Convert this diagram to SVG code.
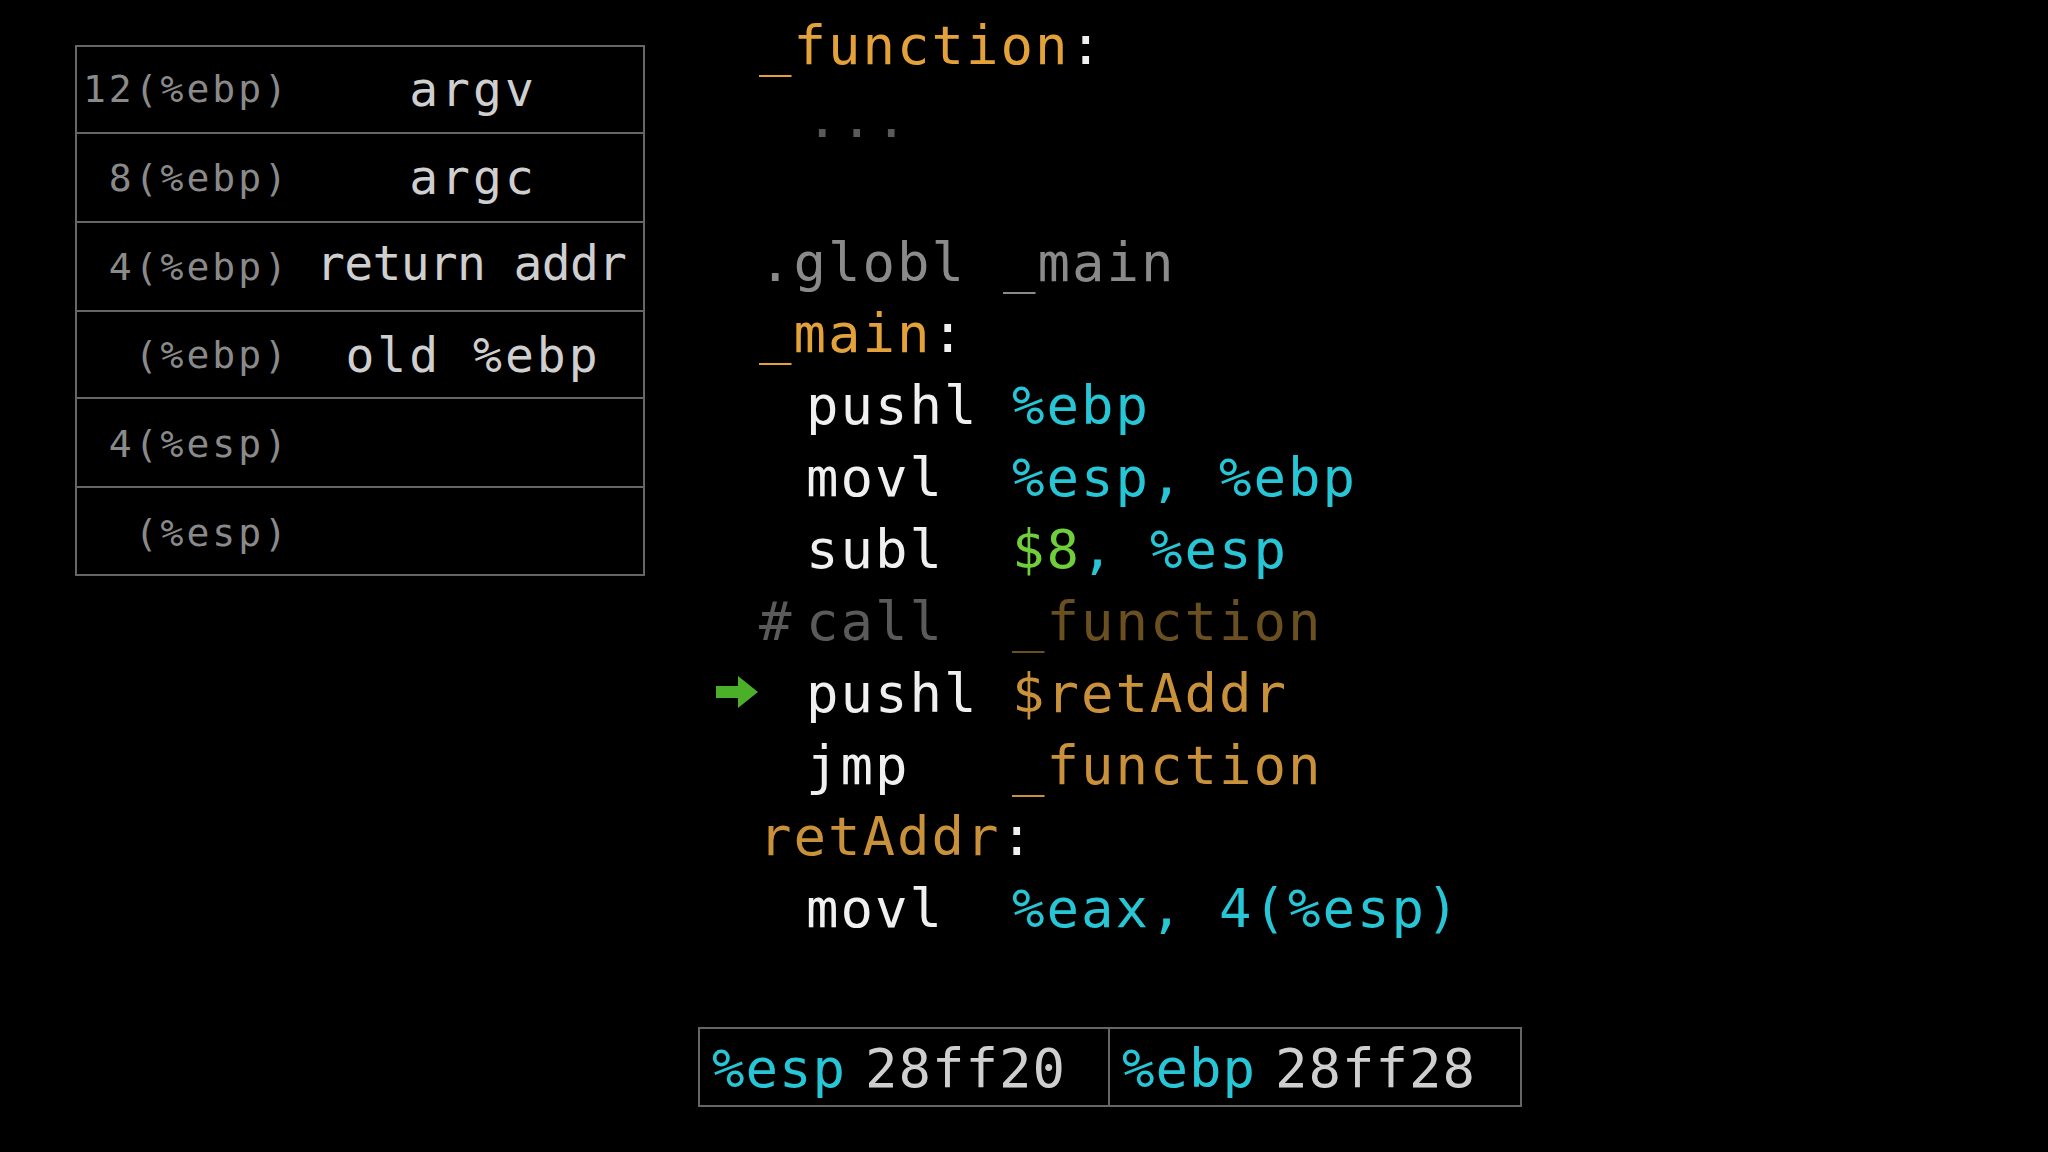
<svg xmlns="http://www.w3.org/2000/svg" width="2048" height="1152" viewBox="0 0 2048 1152">
<style>
text{font-family:"DejaVu Sans Mono","Liberation Mono",monospace}
.c{font-size:54px;letter-spacing:2px;fill:#f0f0f0}
.o{fill:#e3a13a}.o2{fill:#c9923a}.cy{fill:#27c6d6}.g{fill:#6fcf3a}.gr{fill:#8a8a8a}.dg{fill:#5a5a5a}
.lab{font-size:38px;letter-spacing:3px;fill:#8a8a8a;text-anchor:end}
.val{font-size:48px;letter-spacing:3px;fill:#cfcfcf;text-anchor:middle}
.cell{fill:none;stroke:#666;stroke-width:2}
.reg{font-size:54px;letter-spacing:1px}
</style>
<rect width="2048" height="1152" fill="#000"/>
<g id="stack">
<rect class="cell" x="76" y="46" width="568" height="529"/>
<line class="cell" x1="76" y1="133" x2="644" y2="133"/>
<line class="cell" x1="76" y1="222" x2="644" y2="222"/>
<line class="cell" x1="76" y1="311" x2="644" y2="311"/>
<line class="cell" x1="76" y1="398" x2="644" y2="398"/>
<line class="cell" x1="76" y1="487" x2="644" y2="487"/>
<text class="lab" x="290" y="102">12(%ebp)</text><text class="val" x="473" y="106">argv</text>
<text class="lab" x="290" y="191">8(%ebp)</text><text class="val" x="473" y="194">argc</text>
<text class="lab" x="290" y="280">4(%ebp)</text><text class="val" x="473" y="280" textLength="314">return addr</text>
<text class="lab" x="290" y="368">(%ebp)</text><text class="val" x="473" y="372">old %ebp</text>
<text class="lab" x="290" y="457">4(%esp)</text>
<text class="lab" x="290" y="546">(%esp)</text>
</g>
<g id="code" class="c">
<text x="759" y="64"><tspan class="o">_function</tspan>:</text>
<text x="806" y="137" class="dg">...</text>
<text x="759" y="281" class="gr">.globl <tspan x="1003">_main</tspan></text>
<text x="759" y="352"><tspan class="o">_main</tspan>:</text>
<text x="806" y="424">pushl <tspan x="1012" class="cy">%ebp</tspan></text>
<text x="806" y="496">movl<tspan x="1012" class="cy">%esp, %ebp</tspan></text>
<text x="806" y="568">subl<tspan x="1012" class="g">$8</tspan><tspan class="cy">, %esp</tspan></text>
<text x="759" y="640" class="dg">#<tspan x="806">call</tspan><tspan x="1012" style="fill:#6a5020">_function</tspan></text>
<text x="806" y="712">pushl <tspan x="1012" class="o2">$retAddr</tspan></text>
<text x="806" y="784">jmp<tspan x="1012" class="o2">_function</tspan></text>
<text x="759" y="855"><tspan class="o2">retAddr</tspan>:</text>
<text x="806" y="927">movl<tspan x="1012" class="cy">%eax, 4(%esp)</tspan></text>
</g>
<g id="arrow">
<polygon points="716,686 738,686 738,676 758,692 738,708 738,698 716,698" fill="#4caf2a"/>
</g>
<g id="registers">
<rect class="cell" x="699" y="1028" width="822" height="78"/>
<line class="cell" x1="1109" y1="1028" x2="1109" y2="1106"/>
<text class="reg" x="712" y="1087"><tspan class="cy">%esp</tspan><tspan x="865" fill="#cfcfcf">28ff20</tspan></text>
<text class="reg" x="1122" y="1087"><tspan class="cy">%ebp</tspan><tspan x="1275" fill="#cfcfcf">28ff28</tspan></text>
</g>
</svg>
